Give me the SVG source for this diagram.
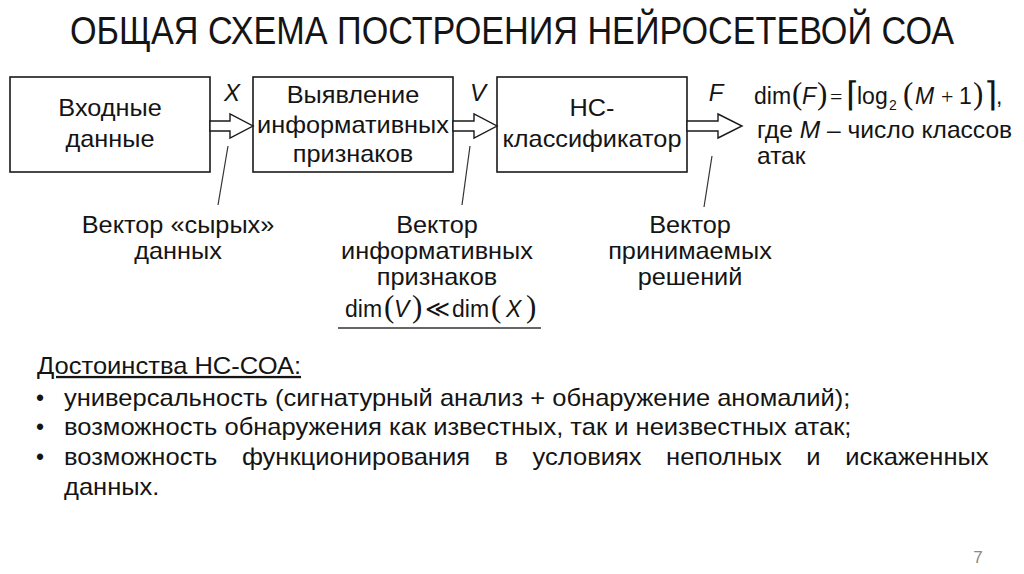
<svg xmlns="http://www.w3.org/2000/svg" width="1024" height="574" viewBox="0 0 1024 574">
<style>
.t{font-family:"Liberation Sans",Arial,sans-serif;font-size:23px;fill:#141414}
.c{text-anchor:middle}
.i{font-style:italic}
.m{font-family:"Liberation Serif","Times New Roman",serif}
.box{fill:#fff;stroke:#1a1a1a;stroke-width:1.6}
.arr{fill:#fff;stroke:#1a1a1a;stroke-width:1.4;stroke-linejoin:miter}
.lead{stroke:#333;stroke-width:1.2;fill:none}
</style>
<rect width="1024" height="574" fill="#fff"/>
<text id="title" class="t c" transform="translate(512,44) scale(1,1.12)" x="0" y="0" style="font-size:34px" textLength="884" lengthAdjust="spacingAndGlyphs">ОБЩАЯ СХЕМА ПОСТРОЕНИЯ НЕЙРОСЕТЕВОЙ СОА</text>

<g id="n1">
<rect class="box" x="10" y="77" width="200" height="95"/>
<text class="t c" transform="translate(110,0) scale(1.1,1)"><tspan x="0" y="116">Входные</tspan><tspan x="0" y="147">данные</tspan></text>
</g>
<g id="n2">
<rect class="box" x="253" y="77" width="200" height="95"/>
<text class="t c" transform="translate(353,0) scale(1.1,1)"><tspan x="0" y="103">Выявление</tspan><tspan x="0" y="133">информативных</tspan><tspan x="0" y="162">признаков</tspan></text>
</g>
<g id="n3">
<rect class="box" x="497" y="77" width="190" height="95"/>
<text class="t c" transform="translate(592,0) scale(1.1,1)"><tspan x="0" y="116">НС-</tspan><tspan x="0" y="147">классификатор</tspan></text>
</g>

<g id="connectors">
<polygon class="arr" points="210,121 230,121 230,114 253,126 230,138 230,131 210,131"/>
<polygon class="arr" points="453,121 474,121 474,114 497,126 474,138 474,131 453,131"/>
<polygon class="arr" points="687,121 718,121 718,114 742,126 718,138 718,131 687,131"/>
<line class="lead" x1="228" y1="146" x2="218" y2="205"/>
<line class="lead" x1="470" y1="146" x2="462" y2="205"/>
<line class="lead" x1="712" y1="156" x2="704" y2="207"/>
</g>

<g id="labels-top">
<text class="t c i" x="232" y="101" style="font-size:24px">X</text>
<text class="t c i" x="478" y="101" style="font-size:24px">V</text>
<text class="t c i" x="716" y="101" style="font-size:24px">F</text>
</g>

<g id="label-x">
<text class="t c" transform="translate(178,0) scale(1.1,1)"><tspan x="0" y="233">Вектор «сырых»</tspan><tspan x="0" y="259">данных</tspan></text>
</g>
<g id="label-v">
<text class="t c" transform="translate(437,0) scale(1.1,1)"><tspan x="0" y="233">Вектор</tspan><tspan x="0" y="259">информативных</tspan><tspan x="0" y="285">признаков</tspan></text>
<text class="t" y="317"><tspan x="345">dim</tspan><tspan class="m" x="384" style="font-size:31px">(</tspan><tspan class="i" x="394">V</tspan><tspan class="m" x="412" style="font-size:31px">)</tspan><tspan class="m" x="425" style="font-size:24px">≪</tspan><tspan x="452">dim</tspan><tspan class="m" x="491" style="font-size:31px">(</tspan><tspan class="i" x="506">X</tspan><tspan class="m" x="526" style="font-size:31px">)</tspan></text>
<line x1="338" y1="328" x2="541" y2="328" stroke="#333" stroke-width="1.4"/>
</g>
<g id="label-f">
<text class="t c" transform="translate(690,0) scale(1.1,1)"><tspan x="0" y="233">Вектор</tspan><tspan x="0" y="259">принимаемых</tspan><tspan x="0" y="285">решений</tspan></text>
</g>

<g id="formula-f">
<text class="t" y="104"><tspan x="754">dim</tspan><tspan class="m" x="792" style="font-size:31px">(</tspan><tspan class="i" x="802">F</tspan><tspan class="m" x="817" style="font-size:31px">)</tspan><tspan class="m" x="830" style="font-size:22px">=</tspan><tspan class="m" x="846" style="font-size:34px;font-weight:300" y="106">⌈</tspan><tspan x="857" y="104">log</tspan><tspan x="889" y="110" style="font-size:14px">2</tspan><tspan class="m" x="903" y="104" style="font-size:31px">(</tspan><tspan class="i" x="915">M</tspan><tspan class="m" x="941" style="font-size:22px">+</tspan><tspan x="959">1</tspan><tspan class="m" x="973" style="font-size:31px">)</tspan><tspan class="m" x="984" style="font-size:34px;font-weight:300" y="106">⌉</tspan><tspan x="996" y="104">,</tspan></text>
<text class="t" transform="translate(757,0) scale(1.07,1)"><tspan x="0" y="138">где <tspan class="i">M</tspan> – число классов</tspan><tspan x="0" y="164">атак</tspan></text>
</g>

<g id="advantages">
<text class="t" transform="translate(37,374) scale(1.11,1)" text-decoration="underline">Достоинства НС-СОА:</text>
<text class="t" x="36" y="406">•</text>
<text class="t" x="36" y="435">•</text>
<text class="t" x="36" y="465">•</text>
<text class="t" transform="translate(64,406) scale(1.11,1)">универсальность (сигнатурный анализ + обнаружение аномалий);</text>
<text class="t" transform="translate(64,435) scale(1.11,1)">возможность обнаружения как известных, так и неизвестных атак;</text>
<text class="t" transform="translate(64,465) scale(1.11,1)" word-spacing="15.7">возможность функционирования в условиях неполных и искаженных</text>
<text class="t" transform="translate(64,495) scale(1.11,1)">данных.</text>
</g>

<text id="page" x="978" y="563" class="t c" style="font-size:17px;fill:#8a8a8a">7</text>
</svg>
